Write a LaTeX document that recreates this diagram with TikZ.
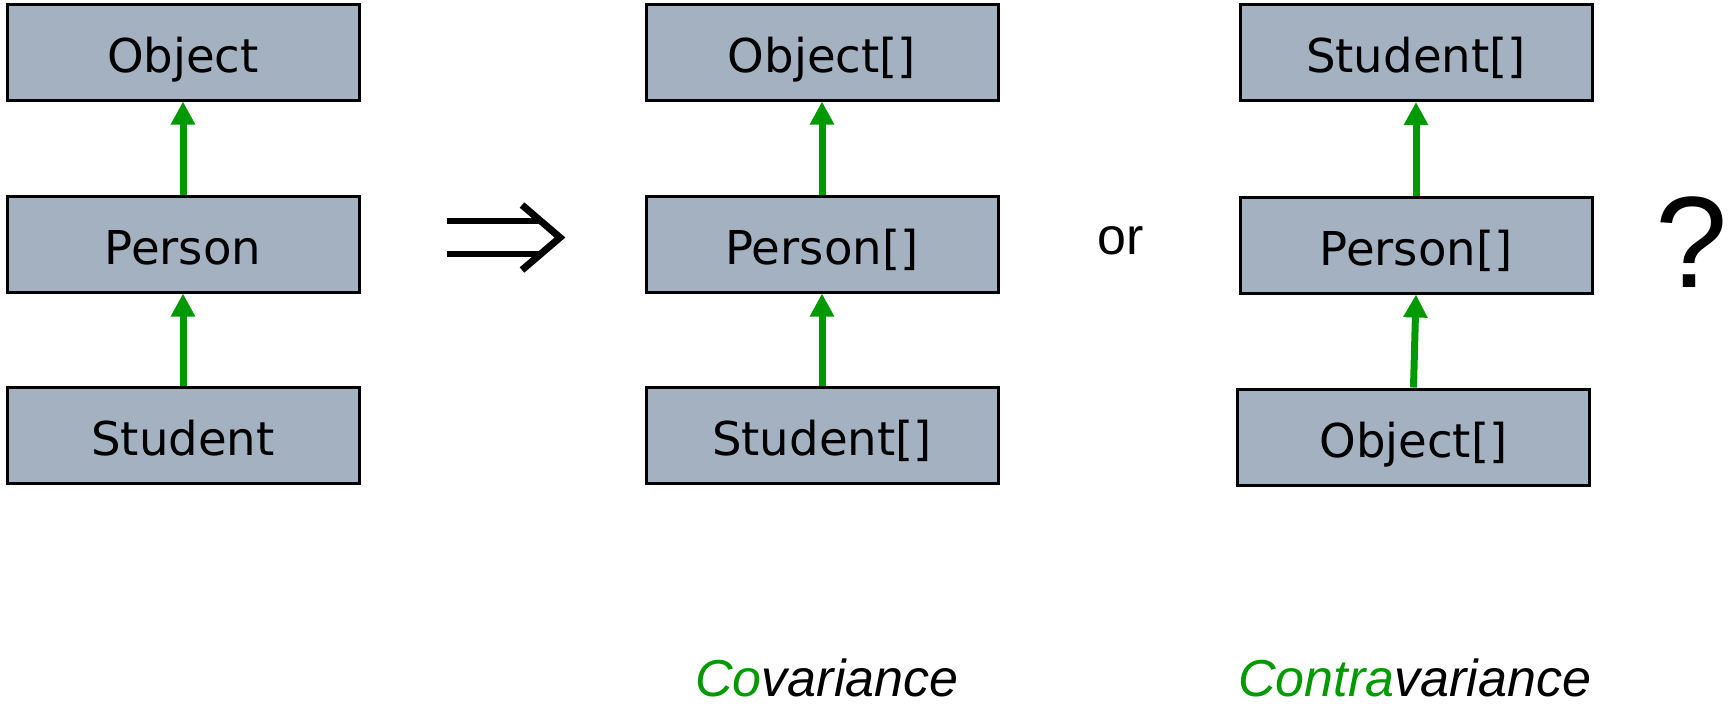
\documentclass[tikz,border=0pt]{standalone}
\usepackage{fontspec}
\setmainfont{DejaVu Sans}
\newfontfamily\arialfont{Liberation Sans}
\usetikzlibrary{arrows.meta}
\definecolor{boxfill}{RGB}{163,177,193}
\definecolor{arrgreen}{RGB}{0,153,0}
\tikzset{
  classbox/.style={draw=black, line width=1.5pt, fill=boxfill, minimum width=176pt,
    minimum height=48pt, inner sep=0pt, text height=20pt, text depth=0pt,
    font=\fontsize{23.3}{28}\selectfont},
  inherit/.style={draw=arrgreen, line width=3.5pt, -{Triangle[width=11.5pt,length=11.5pt]}},
  implies/.style={line width=3pt, black},
  caption/.style={font=\arialfont\itshape\fontsize{26}{30}\selectfont, anchor=base west, inner sep=0pt}
}
\begin{document}
\begin{tikzpicture}[x=0.5pt,y=-0.5pt]
\useasboundingbox (0,0) rectangle (1736,708);
% left column
\node[classbox] (objL) at (183,52) {Object};
\node[classbox] (perL) at (183,244) {Person};
\node[classbox] (stuL) at (183,435) {Student};
\draw[inherit] (perL.north) -- (objL.south);
\draw[inherit] (stuL.north) -- (perL.south);
% implies symbol
\draw[implies] (447,221) -- (540,221);
\draw[implies] (447,254) -- (540,254);
\draw[implies, line width=3.5pt, line join=miter] (522,205) -- (560,237.5) -- (522,270);
% middle column
\node[classbox] (objM) at (822,52) {Object[]};
\node[classbox] (perM) at (822,244) {Person[]};
\node[classbox] (stuM) at (822,435) {Student[]};
\draw[inherit] (perM.north) -- (objM.south);
\draw[inherit] (stuM.north) -- (perM.south);
% or
\node[font=\arialfont\fontsize{26}{30}\selectfont, anchor=base, inner sep=0pt] (or) at (1121,254) {or};
% right column
\node[classbox] (stuR) at (1416,52.5) {Student[]};
\node[classbox] (perR) at (1416,245) {Person[]};
\node[classbox] (objR) at (1413.5,437) {Object[]};
\draw[inherit] (perR.north) -- (stuR.south);
\draw[inherit] (objR.north) -- (perR.south);
% question mark
\node[font=\arialfont\fontsize{65}{70}\selectfont, anchor=base, inner sep=0pt] (q) at (1692,287) {?};
% captions
\node[caption] (cov) at (695,696) {\textcolor{arrgreen}{Co}variance};
\node[caption] (contra) at (1238,696) {\textcolor{arrgreen}{Contra}variance};
\end{tikzpicture}
\end{document}
